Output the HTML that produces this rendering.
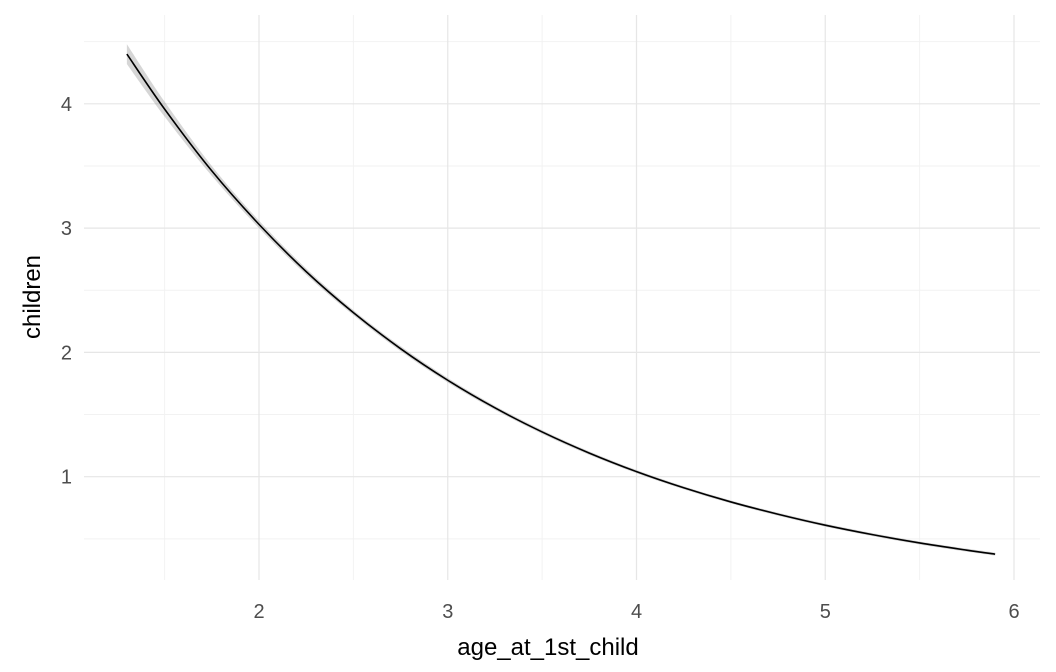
<!DOCTYPE html>
<html><head><meta charset="utf-8"><style>
html,body{margin:0;padding:0;background:#fff;}
svg{display:block;font-family:"Liberation Sans",sans-serif;}
</style></head><body>
<svg id="chart" width="1056" height="672" viewBox="0 0 1056 672">
<g id="grid"></g>
<g id="series"></g>
<g id="axes"></g>
<text x="548" y="655" text-anchor="middle" font-size="24" fill="#000">age_at_1st_child</text>
<text transform="translate(40,297) rotate(-90)" text-anchor="middle" font-size="24" fill="#000">children</text>
</svg>
<script>
const xs = [1.3,1.5,1.75,2,2.25,2.5,2.75,3,3.25,3.5,3.75,4,4.25,4.5,4.75,5,5.25,5.5,5.75,5.9];
const ys = [4.40,3.957,3.46,3.03,2.65,2.32,2.03,1.776,1.554,1.36,1.19,1.041,0.911,0.797,0.698,0.61,0.534,0.467,0.409,0.377];
const se = [0.08,0.06,0.04,0.03,0.025,0.02,0.02,0.018,0.016,0.015,0.014,0.013,0.012,0.012,0.012,0.012,0.012,0.012,0.012,0.012];
const xTicks = [2,3,4,5,6];
const yTicks = [1,2,3,4];
const xMinor = [1.5,2.5,3.5,4.5,5.5];
const yMinor = [0.5,1.5,2.5,3.5,4.5];
const X = v => 259 + (v-2)*188.75;
const Y = v => 601 - v*124.3;
const L=84,R=1040,T=15,B=580;
const ns="http://www.w3.org/2000/svg";
const grid=document.getElementById('grid'), axes=document.getElementById('axes'), series=document.getElementById('series');
function line(p,x1,y1,x2,y2,c,w){const e=document.createElementNS(ns,'line');e.setAttribute('x1',x1);e.setAttribute('y1',y1);e.setAttribute('x2',x2);e.setAttribute('y2',y2);e.setAttribute('stroke',c);e.setAttribute('stroke-width',w);p.appendChild(e);return e;}
xMinor.forEach(v=>{const e=line(grid,X(v),T,X(v),B,'#f2f2f2',1);

});
yMinor.forEach(v=>{const e=line(grid,L,Y(v),R,Y(v),'#f2f2f2',1);

});
xTicks.forEach(v=>{const e=line(grid,X(v),T,X(v),B,'#e6e6e6',1.2);


const t=document.createElementNS(ns,'text');t.setAttribute('x',X(v));t.setAttribute('y',618);t.setAttribute('text-anchor','middle');t.setAttribute('font-size','20');t.setAttribute('fill','#4d4d4d');t.textContent=v;


axes.appendChild(t);});
yTicks.forEach(v=>{const e=line(grid,L,Y(v),R,Y(v),'#e6e6e6',1.2);


const t=document.createElementNS(ns,'text');t.setAttribute('x',72);t.setAttribute('y',Y(v)+7);t.setAttribute('text-anchor','end');t.setAttribute('font-size','20');t.setAttribute('fill','#4d4d4d');t.textContent=v;


axes.appendChild(t);});
function smooth(pts){let d='M'+pts[0][0]+','+pts[0][1];for(let i=0;i<pts.length-1;i++){const p0=pts[Math.max(0,i-1)],p1=pts[i],p2=pts[i+1],p3=pts[Math.min(pts.length-1,i+2)];
d+=' C'+(p1[0]+(p2[0]-p0[0])/6)+','+(p1[1]+(p2[1]-p0[1])/6)+' '+(p2[0]-(p3[0]-p1[0])/6)+','+(p2[1]-(p3[1]-p1[1])/6)+' '+p2[0]+','+p2[1];}return d;}
const up=xs.map((x,i)=>[X(x),Y(ys[i]+se[i])]);
const lo=xs.map((x,i)=>[X(x),Y(ys[i]-se[i])]).reverse();
const band=document.createElementNS(ns,'path');
band.setAttribute('d',smooth(up)+' L'+smooth(lo).slice(1)+' Z');
band.setAttribute('fill','#999');band.setAttribute('fill-opacity','0.4');


series.appendChild(band);
const ln=document.createElementNS(ns,'path');
ln.setAttribute('d',smooth(xs.map((x,i)=>[X(x),Y(ys[i])])));
ln.setAttribute('fill','none');ln.setAttribute('stroke','#000');ln.setAttribute('stroke-width','1.6');


series.appendChild(ln);
</script>
</body></html>
